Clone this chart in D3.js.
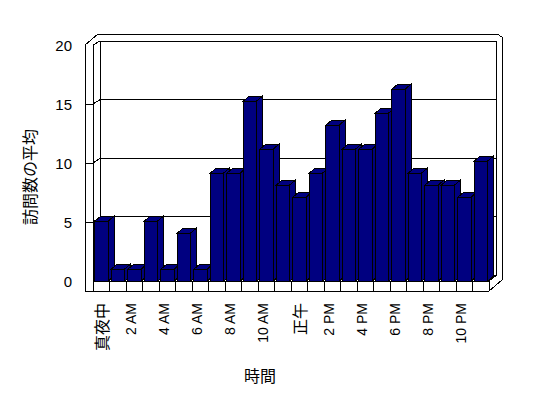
<!DOCTYPE html>
<html>
<head>
<meta charset="utf-8">
<script src="https://cdn.jsdelivr.net/npm/d3@7"></script>
<style>
  body { margin: 0; background: #fff; }
  svg { display: block; }
</style>
</head>
<body>
<svg class="chart"></svg>
<script>
let width = 548;
let height = 398;

// hours of the day and the average number of visits per hour
let hours = [0, 1, 2, 3, 4, 5, 6, 7, 8, 9, 10, 11, 12, 13, 14, 15, 16, 17, 18, 19, 20, 21, 22, 23];
let visits = [5, 1, 1, 5, 1, 4, 1, 9, 9, 15, 11, 8, 7, 9, 13, 11, 11, 14, 16, 9, 8, 8, 7, 10];

// labels shown under every other hour
let labelHours = [0, 2, 4, 6, 8, 10, 12, 14, 16, 18, 20, 22];
let hourLabels = ["真夜中", "2 AM", "4 AM", "6 AM", "8 AM", "10 AM", "正午", "2 PM", "4 PM", "6 PM", "8 PM", "10 PM"];
let yTicks = [0, 5, 10, 15, 20];

let yTitle = "訪問数の平均";
let xTitle = "時間";

let svg = d3.select(".chart")
  .attr("width", width)
  .attr("height", height)
  .attr("shape-rendering", "crispEdges");

// front plane of the box
let x = d3.scaleBand().domain(hours).range([93, 489]);
let yFront = d3.scaleLinear().domain([0, 20]).range([281, 45]);
// back wall (pushed back into depth)
let yBack = d3.scaleLinear().domain([0, 20]).range([275.5, 41]);
// bars
let yBar = d3.scaleLinear().domain([0, 20]).range([281, 41]);

let wallThick = 8;      // left wall front face width
let floorThick = 10;    // floor front face height
let depth = [7, -5.5];  // front plane -> back wall
let outer = [13, -11];  // front plane -> outside of the back wall
let barDepth = [6, -5];

let x0 = x.range()[0], x1 = x.range()[1];
let bx0 = x0 + depth[0], bx1 = x1 + depth[0];
let left = x0 - wallThick;
let floorY = yFront(0), bottom = floorY + floorThick;

function line(g, a, b, c, d) {
  g.append("line")
    .attr("x1", a).attr("y1", b)
    .attr("x2", c).attr("y2", d)
    .attr("stroke", "#000")
    .attr("stroke-width", 1);
}

let frame = svg.append("g").attr("class", "frame");

// outline of walls and floor
frame.append("polygon")
  .attr("points", [
    [left, bottom],
    [left, yFront(20)],
    [left + outer[0], yFront(20) + outer[1]],
    [bx1 + 1, yFront(20) + outer[1]],
    [x1 + outer[0], yFront(20) + outer[1] + 3],
    [x1 + outer[0], bottom + outer[1]],
    [x1, bottom]
  ].join(" "))
  .attr("fill", "#fff")
  .attr("stroke", "#000");

// left wall inner edge and back wall edges
line(frame, x0, yFront(20), x0, floorY);
line(frame, bx0, yBack(20), bx0, yBack(0));
line(frame, bx1, yBack(20), bx1, yBack(0));

// gridlines with their ticks on the left wall
yTicks.forEach(function(v) {
  if (v > 0 && v < 20) line(frame, left, yFront(v), x0, yFront(v));
  line(frame, x0, yFront(v), bx0, yBack(v));
  line(frame, bx0, yBack(v), bx1, yBack(v));
});

// floor front edge, right end
line(frame, x0, floorY, x1, floorY);
line(frame, x1, floorY, bx1, yBack(0));
line(frame, x1, floorY, x1, bottom);

// category dividers on the floor's front face
let bw = x.bandwidth();
hours.concat([24]).forEach(function(h, i) {
  let cx = x0 + i * bw;
  line(frame, cx, floorY, cx, bottom);
});

// bars
let bars = svg.append("g").attr("class", "bars")
  .selectAll("g")
  .data(hours)
  .enter().append("g")
  .attr("fill", "#000080")
  .attr("stroke", "#000")
  .attr("stroke-width", 1);

let barW = bw * 0.8;
let barOff = bw * 0.12;

bars.append("polygon")
  .attr("points", function(h, i) {
    let bx = x(h) + barOff + barW;
    let t = yBar(visits[i]), b = yBar(0);
    return [[bx, t], [bx + barDepth[0], t + barDepth[1]], [bx + barDepth[0], b + barDepth[1]], [bx, b]].join(" ");
  });

bars.append("polygon")
  .attr("points", function(h, i) {
    let bx = x(h) + barOff;
    let t = yBar(visits[i]);
    return [[bx, t], [bx + barDepth[0], t + barDepth[1]], [bx + barW + barDepth[0], t + barDepth[1]], [bx + barW, t]].join(" ");
  });

bars.append("rect")
  .attr("x", function(h) { return x(h) + barOff; })
  .attr("y", function(h, i) { return yBar(visits[i]); })
  .attr("width", barW)
  .attr("height", function(h, i) { return yBar(0) - yBar(visits[i]); });

// y tick labels
svg.append("g").selectAll("text")
  .data(yTicks)
  .enter().append("text")
  .attr("x", 72)
  .attr("y", function(d) { return yFront(d); })
  .attr("text-anchor", "end")
  .attr("dominant-baseline", "central")
  .attr("font-family", "'Liberation Sans', Arial, sans-serif")
  .attr("font-size", 15)
  .text(function(d) { return d; });

// x tick labels, rotated
svg.append("g").selectAll("text")
  .data(labelHours)
  .enter().append("text")
  .attr("transform", function(h) {
    return "translate(" + (x(h) + bw / 2) + "," + 303 + ") rotate(-90)";
  })
  .attr("text-anchor", "end")
  .attr("dominant-baseline", "central")
  .attr("dy", function(h, i) { return /[A-Z]/.test(hourLabels[i]) ? -3 : 0; })
  .attr("font-family", function(h, i) {
    return /[A-Z]/.test(hourLabels[i]) ? "'Liberation Sans', Arial, sans-serif" : "'Noto Sans CJK JP', sans-serif";
  })
  .attr("font-size", function(h, i) { return /[A-Z]/.test(hourLabels[i]) ? 14 : 16; })
  .text(function(h, i) { return hourLabels[i]; });

// axis titles
svg.append("text")
  .attr("transform", "translate(29,177) rotate(-90)")
  .attr("text-anchor", "middle")
  .attr("dominant-baseline", "central")
  .attr("font-family", "'Noto Sans CJK JP', sans-serif")
  .attr("font-size", 16)
  .text(yTitle);

svg.append("text")
  .attr("x", 260)
  .attr("y", 375)
  .attr("text-anchor", "middle")
  .attr("dominant-baseline", "central")
  .attr("font-family", "'Noto Sans CJK JP', sans-serif")
  .attr("font-size", 16)
  .text(xTitle);
</script>
</body>
</html>
